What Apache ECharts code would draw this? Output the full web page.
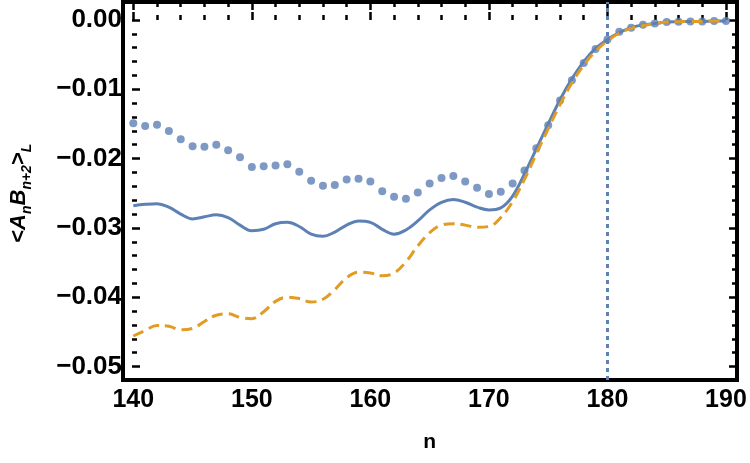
<!DOCTYPE html>
<html lang="en">
<head>
<meta charset="UTF-8">
<title>Correlator</title>
<style>
  html, body { margin: 0; padding: 0; background: #fff; }
  #main { width: 750px; height: 463px; }
</style>
</head>
<body>
<div id="main"></div>
<script src="https://cdn.jsdelivr.net/npm/echarts@6/dist/echarts.min.js"></script>
<script>
// site index n, one point per integer
const nValues = [140, 141, 142, 143, 144, 145, 146, 147, 148, 149, 150, 151, 152, 153, 154, 155, 156, 157, 158, 159,
  160, 161, 162, 163, 164, 165, 166, 167, 168, 169, 170, 171, 172, 173, 174, 175, 176, 177, 178, 179,
  180, 181, 182, 183, 184, 185, 186, 187, 188, 189, 190];

// dotted (points)
const dotted = [-0.0149, -0.0153, -0.0151, -0.0160, -0.0172, -0.0182, -0.0183, -0.0180, -0.0188, -0.0198,
  -0.0212, -0.0211, -0.0210, -0.0208, -0.0219, -0.0232, -0.0239, -0.0238, -0.0230, -0.0229,
  -0.0233, -0.0247, -0.0255, -0.0258, -0.0249, -0.0236, -0.0228, -0.0225, -0.0233, -0.0242,
  -0.0251, -0.0248, -0.0236, -0.0217, -0.0185, -0.0152, -0.0116, -0.0087, -0.0062, -0.0042,
  -0.0028, -0.0017, -0.0011, -0.0007, -0.0005, -0.0003, -0.00025, -0.0002, -0.0002, -0.00015, -0.00015];

// solid blue line
const solid = [-0.0268, -0.0266, -0.0265, -0.0270, -0.0280, -0.0287, -0.0284, -0.0281, -0.0285, -0.0296,
  -0.0304, -0.0302, -0.0294, -0.0292, -0.0298, -0.0309, -0.0312, -0.0306, -0.0296, -0.0290,
  -0.0292, -0.0302, -0.0309, -0.0303, -0.0290, -0.0274, -0.0263, -0.0259, -0.0263, -0.0270,
  -0.0274, -0.0271, -0.0254, -0.0222, -0.0186, -0.0150, -0.0115, -0.0085, -0.0060, -0.0041,
  -0.0028, -0.0018, -0.0011, -0.0007, -0.0005, -0.0003, -0.00025, -0.0002, -0.0002, -0.00015, -0.00015];

// dashed orange line
const dashed = [-0.0456, -0.0448, -0.0441, -0.0442, -0.0447, -0.0445, -0.0435, -0.0426, -0.0424, -0.0429,
  -0.0431, -0.0421, -0.0406, -0.0400, -0.0402, -0.0407, -0.0403, -0.0389, -0.0372, -0.0364,
  -0.0365, -0.0369, -0.0365, -0.0349, -0.0326, -0.0307, -0.0296, -0.0294, -0.0296, -0.0299,
  -0.0298, -0.0285, -0.0262, -0.0230, -0.0193, -0.0157, -0.0122, -0.0091, -0.0065, -0.0045,
  -0.0030, -0.0019, -0.0012, -0.0008, -0.0005, -0.0003, -0.00025, -0.0002, -0.0002, -0.00015, -0.00015];

const markerN = 180;

// tick labels (first, last, step)
const xTicks = [140, 190, 10];
const yTicks = [-0.05, 0, 0.01];

const blue = '#5E81B5';
const orange = '#E19C24';
const font = 'Liberation Sans, Arial, sans-serif';

// plotted range (Mathematica-style padding around the ticks)
const X_MIN = 139.13, X_MAX = 190.93;
const Y_MIN = -0.05195, Y_MAX = 0.0026;

// frame
const G = { left: 123, right: 13, top: 2, bottom: 83 };
const W = 750, H = 463;
const pxX = (W - G.left - G.right) / (X_MAX - X_MIN);
const pxY = (H - G.top - G.bottom) / (Y_MAX - Y_MIN);

// tick grids: same scale, but whose edges fall exactly on the first/last tick
const gridX = {
  left: G.left + (xTicks[0] - X_MIN) * pxX, right: G.right + (X_MAX - xTicks[1]) * pxX,
  top: G.top, bottom: G.bottom
};
const gridY = {
  left: G.left, right: G.right,
  top: G.top + (Y_MAX - yTicks[1]) * pxY, bottom: G.bottom + (yTicks[0] - Y_MIN) * pxY
};

const chart = echarts.init(document.getElementById('main'));

function fmtY(v) {
  const s = Math.abs(v).toFixed(2);
  return v < -1e-9 ? '\u2212' + s : s;
}

const tickStyle = { color: '#000', width: 2.5 };
const labelStyle = { color: '#000', fontWeight: 'bold', fontFamily: font };

function tickAxis(gridIndex, pos, t, labels, extra) {
  return Object.assign({
    type: 'value', gridIndex: gridIndex, position: pos,
    min: t[0], max: t[1], interval: t[2],
    axisLine: { show: false },
    axisTick: { show: true, inside: true, length: 8, lineStyle: tickStyle },
    minorTick: { show: true, splitNumber: 5, length: 5, lineStyle: tickStyle },
    axisLabel: labels ? labels : { show: false },
    splitLine: { show: false }, minorSplitLine: { show: false }
  }, extra || {});
}

const hidden = {
  axisLine: { show: false }, axisTick: { show: false }, axisLabel: { show: false }, splitLine: { show: false }
};

const option = {
  animation: false,
  backgroundColor: '#fff',
  grid: [
    Object.assign({ show: true, borderColor: '#000', borderWidth: 4, backgroundColor: 'transparent' }, G),
    gridX,
    gridY
  ],
  xAxis: [
    Object.assign({ type: 'value', gridIndex: 0, min: X_MIN, max: X_MAX }, hidden),
    tickAxis(1, 'bottom', xTicks,
      Object.assign({ show: true, margin: 8, fontSize: 25 }, labelStyle),
      {
        name: 'n', nameLocation: 'middle', nameGap: 52,
        nameTextStyle: { fontSize: 21, fontWeight: 'bold', color: '#000', fontFamily: font }
      }),
    tickAxis(1, 'top', xTicks, null),
    Object.assign({ type: 'value', gridIndex: 2, min: X_MIN, max: X_MAX }, hidden)
  ],
  yAxis: [
    Object.assign({ type: 'value', gridIndex: 0, min: Y_MIN, max: Y_MAX }, hidden),
    Object.assign({ type: 'value', gridIndex: 1, min: Y_MIN, max: Y_MAX }, hidden),
    tickAxis(2, 'left', yTicks,
      Object.assign({ show: true, margin: 10, fontSize: 26, formatter: fmtY }, labelStyle),
      {
        name: '{t|<}{i|A}{s|n}{i|B}{s|n+2}{t|>}{s|L}',
        nameLocation: 'middle', nameGap: 98, nameRotate: 90,
        nameTextStyle: {
          color: '#000',
          rich: {
            t: { fontSize: 22, fontWeight: 'bold', fontFamily: font, lineHeight: 30, color: '#000' },
            i: { fontSize: 22, fontWeight: 'bold', fontStyle: 'italic', fontFamily: font, lineHeight: 30, color: '#000' },
            s: { fontSize: 14, fontWeight: 'bold', fontStyle: 'italic', fontFamily: font, lineHeight: 14, verticalAlign: 'bottom', color: '#000' }
          }
        }
      }),
    tickAxis(2, 'right', yTicks, null)
  ],
  series: [
    {
      type: 'line', name: 'solid', xAxisIndex: 0, yAxisIndex: 0, smooth: 0.4, showSymbol: false,
      data: nValues.map((n, i) => [n, solid[i]]),
      lineStyle: { color: blue, width: 3 },
      itemStyle: { color: blue },
      markLine: {
        silent: true, symbol: 'none', label: { show: false },
        lineStyle: { color: blue, width: 3, type: [4, 4] },
        data: [{ xAxis: markerN }]
      }
    },
    {
      type: 'line', name: 'dashed', xAxisIndex: 0, yAxisIndex: 0, smooth: 0.4, showSymbol: false,
      data: nValues.map((n, i) => [n, dashed[i]]),
      lineStyle: { color: orange, width: 3, type: [11, 6] },
      itemStyle: { color: orange }
    },
    {
      type: 'scatter', name: 'dotted', xAxisIndex: 0, yAxisIndex: 0, symbolSize: 8,
      data: nValues.map((n, i) => [n, dotted[i]]),
      itemStyle: { color: blue }
    }
  ]
};

chart.setOption(option);
</script>
</body>
</html>
